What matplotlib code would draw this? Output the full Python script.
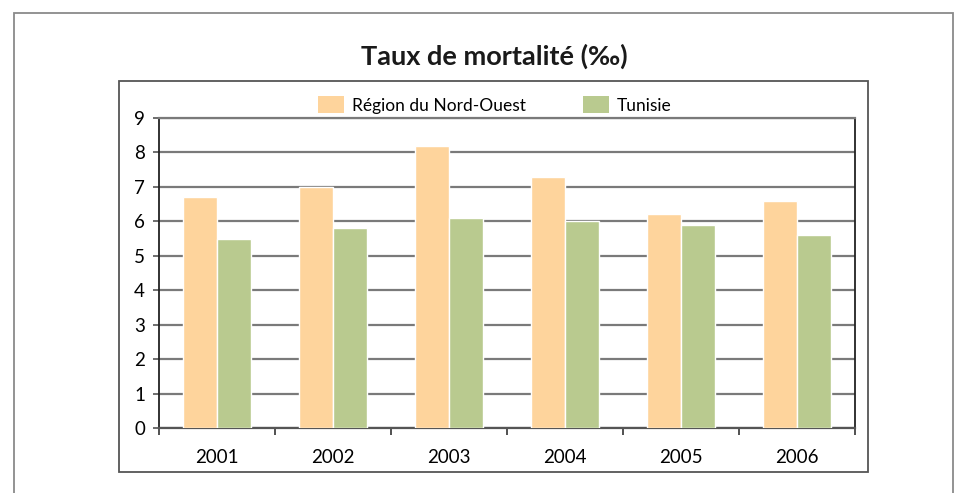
import numpy as np
import matplotlib
matplotlib.use('Agg')
import matplotlib.pyplot as plt
from matplotlib.patches import Rectangle, Patch

years = ['2001', '2002', '2003', '2004', '2005', '2006']
nord_ouest = [6.7, 7.0, 8.2, 7.3, 6.2, 6.6]
tunisie = [5.5, 5.8, 6.1, 6.0, 5.9, 5.6]

plt.rcParams['font.family'] = ['Lato', 'DejaVu Sans']

orange = '#fed49c'
green = '#b9ca8f'
grid_c = '#7a7a7a'

fig = plt.figure(figsize=(9.66, 4.93), dpi=100)

# outer frame and inner box
fig.patches.append(Rectangle((0.015, -0.1), 0.972, 1.074, transform=fig.transFigure,
                             fill=False, edgecolor='#8a8a8a', linewidth=1.3))
fig.patches.append(Rectangle((0.1232, 0.0426), 0.7754, 0.7931, transform=fig.transFigure,
                             fill=False, edgecolor='#555555', linewidth=1.3))

ax = fig.add_axes([0.1646, 0.1318, 0.7205, 0.6288])
x = np.arange(len(years))
w = 0.29
ax.bar(x - w / 2, nord_ouest, w, color=orange, edgecolor='white', linewidth=1, zorder=3)
ax.bar(x + w / 2, tunisie, w, color=green, edgecolor='white', linewidth=1, zorder=3)

ax.set_xlim(-0.5, len(years) - 0.5)
ax.set_ylim(0, 9)
ax.set_yticks(range(10))
ax.yaxis.grid(True, color=grid_c, linewidth=1.6, zorder=1)
ax.set_axisbelow(True)

ax.set_xticks(x)
ax.set_xticklabels(years, fontsize=13.5)
ax.tick_params(axis='x', length=0, pad=15)
ax.set_xticks(np.arange(-0.5, len(years)), minor=True)
ax.tick_params(axis='x', which='minor', length=5, width=1.2, color='#333333', direction='out')
ax.tick_params(axis='y', length=4, width=1.2, color='#555555', labelsize=13.5, pad=6)

for s in ['left', 'right']:
    ax.spines[s].set_color('#222222')
    ax.spines[s].set_linewidth(1.3)
ax.spines['top'].set_color(grid_c)
ax.spines['top'].set_linewidth(1.6)
ax.spines['bottom'].set_color('#555555')
ax.spines['bottom'].set_linewidth(1.6)

fig.text(0.512, 0.885, 'Taux de mortalité (‰)', ha='center', va='center',
         fontsize=19.5, fontweight='bold', color='#1a1a1a')

handles = [Patch(facecolor=orange, edgecolor='none'), Patch(facecolor=green, edgecolor='none')]
fig.legend(handles, ['Région du Nord-Ouest', 'Tunisie'], loc='center', ncol=2,
           bbox_to_anchor=(0.512, 0.787), frameon=False, fontsize=12.5,
           handlelength=1.5, handleheight=1.1, handletextpad=0.45, columnspacing=3.3)

fig.savefig('out.png', dpi=100)
